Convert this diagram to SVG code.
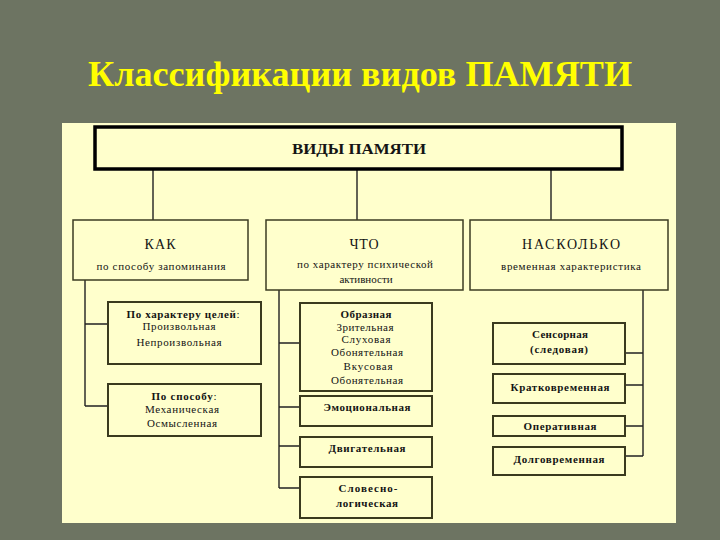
<svg xmlns="http://www.w3.org/2000/svg" width="720" height="540" viewBox="0 0 720 540">
<style>
.bg{fill:#6d7462}
.panel{fill:#ffffcc}
.title{font-family:"Liberation Serif","Times New Roman",serif;font-weight:bold;font-size:36px;fill:#ffff00;text-anchor:middle}
.t{font-family:"Liberation Serif","Times New Roman",serif;fill:#141414;text-anchor:middle}
.b{font-weight:bold}
.h{font-size:14px}
.s{font-size:11px}
.box2{fill:#ffffcc;stroke:#3c3c22;stroke-width:1.5}
.box3{fill:#ffffcc;stroke:#3a3a1e;stroke-width:2}
.top{fill:#ffffcc;stroke:#000;stroke-width:3.5}
.c{stroke:#222;stroke-width:1.4;fill:none}
</style>
<rect class="bg" x="0" y="0" width="720" height="540"/>
<text class="title" x="360" y="86" textLength="544" lengthAdjust="spacingAndGlyphs">Классификации видов ПАМЯТИ</text>
<rect class="panel" x="62" y="123" width="614" height="400"/>

<g id="connectors">
<path class="c" d="M153 169V220M357 169V220M551 169V220"/>
<path class="c" d="M85 280V406M85 324H108M85 406H108"/>
<path class="c" d="M279 290V488M279 343H300M279 407H300M279 446H300M279 488H300"/>
<path class="c" d="M643 290V456M625 353H643M625 385H643M625 426H643M625 456H643"/>
</g>

<g id="root">
<rect class="top" x="95" y="127" width="527" height="42"/>
<text class="t b" x="359" y="154" font-size="15" textLength="134" lengthAdjust="spacingAndGlyphs">ВИДЫ ПАМЯТИ</text>
</g>

<g id="kak">
<rect class="box2" x="73" y="220" width="175" height="60"/>
<text class="t h" x="160" y="249" textLength="31">КАК</text>
<text class="t s" x="161" y="270" textLength="129">по способу запоминания</text>
</g>

<g id="chto">
<rect class="box2" x="266" y="220" width="197" height="70"/>
<text class="t h" x="364" y="249" textLength="29">ЧТО</text>
<text class="t s" x="365" y="268" textLength="136">по характеру психической</text>
<text class="t s" x="366" y="283">активности</text>
</g>

<g id="naskolko">
<rect class="box2" x="470" y="220" width="198" height="70"/>
<text class="t h" x="571" y="249" textLength="98">НАСКОЛЬКО</text>
<text class="t s" x="571" y="270" textLength="140">временная характеристика</text>
</g>

<g id="po-harakteru">
<rect class="box3" x="108" y="302" width="153" height="62"/>
<text class="t s" x="183" y="318" textLength="113"><tspan class="b">По характеру целей</tspan>:</text>
<text class="t s" x="179" y="330" textLength="73">Произвольная</text>
<text class="t s" x="179" y="346" textLength="85">Непроизвольная</text>
</g>

<g id="po-sposobu">
<rect class="box3" x="108" y="384" width="153" height="52"/>
<text class="t s" x="184" y="400" textLength="65"><tspan class="b">По способу</tspan>:</text>
<text class="t s" x="182" y="413" textLength="74">Механическая</text>
<text class="t s" x="182" y="427" textLength="70">Осмысленная</text>
</g>

<g id="obraznaya">
<rect class="box3" x="300" y="303" width="132" height="88"/>
<text class="t s b" x="366" y="318" textLength="51">Образная</text>
<text class="t s" x="365" y="331" textLength="57">Зрительная</text>
<text class="t s" x="366" y="343" textLength="49">Слуховая</text>
<text class="t s" x="367" y="356" textLength="72">Обонятельная</text>
<text class="t s" x="368" y="370" textLength="49">Вкусовая</text>
<text class="t s" x="367" y="384" textLength="72">Обонятельная</text>
</g>

<g id="emocionalnaya">
<rect class="box3" x="300" y="396" width="132" height="30"/>
<text class="t s b" x="367" y="411" textLength="87">Эмоциональная</text>
</g>

<g id="dvigatelnaya">
<rect class="box3" x="300" y="437" width="132" height="30"/>
<text class="t s b" x="367" y="452" textLength="77">Двигательная</text>
</g>

<g id="slovesno">
<rect class="box3" x="300" y="477" width="132" height="41"/>
<text class="t s b" x="368" y="492" textLength="59">Словесно-</text>
<text class="t s b" x="367" y="507" textLength="62">логическая</text>
</g>

<g id="sensornaya">
<rect class="box3" x="493" y="323" width="132" height="41"/>
<text class="t s b" x="560" y="338" textLength="56">Сенсорная</text>
<text class="t s b" x="559" y="353" textLength="58">(следовая)</text>
</g>

<g id="kratkovremennaya">
<rect class="box3" x="493" y="374" width="132" height="29"/>
<text class="t s b" x="560" y="391" textLength="99">Кратковременная</text>
</g>

<g id="operativnaya">
<rect class="box3" x="493" y="416" width="132" height="20"/>
<text class="t s b" x="560" y="430" textLength="73">Оперативная</text>
</g>

<g id="dolgovremennaya">
<rect class="box3" x="493" y="447" width="132" height="28"/>
<text class="t s b" x="559" y="463" textLength="91">Долговременная</text>
</g>
</svg>
